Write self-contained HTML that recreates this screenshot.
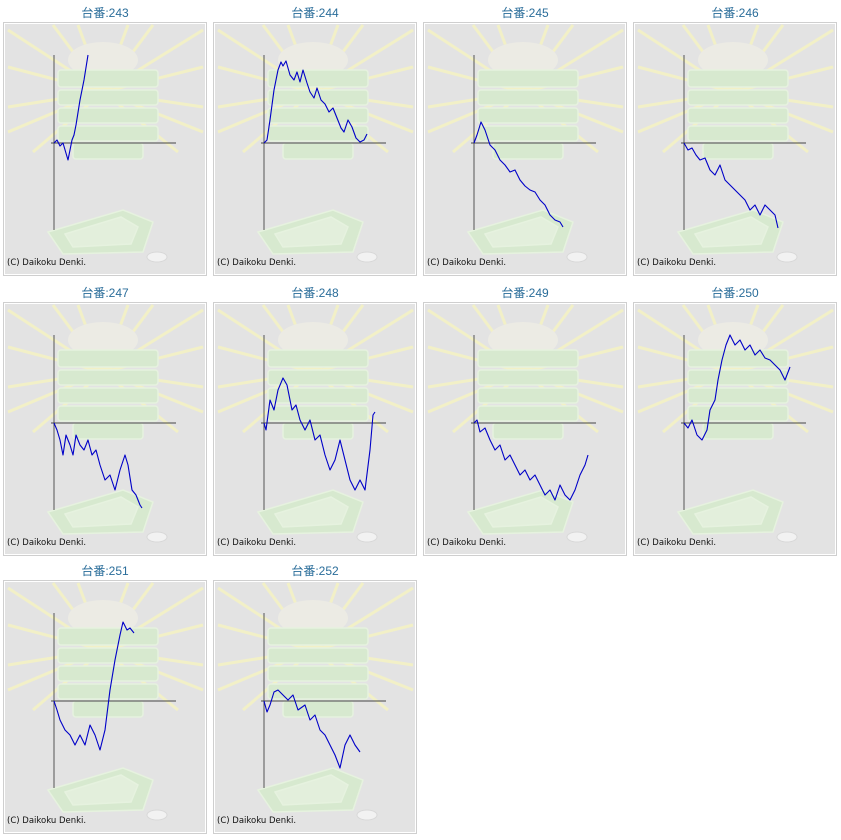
<!DOCTYPE html>
<html><head><meta charset="utf-8"><style>
html,body{margin:0;padding:0;background:#fff;}
svg{display:block;}
.t{font-family:"Liberation Sans","Noto Sans CJK JP",sans-serif;font-size:12px;fill:#2a6d9a;text-anchor:middle;}
.c{font-family:"DejaVu Sans","Liberation Sans",sans-serif;font-size:8.5px;fill:#111;}
.s{fill:none;stroke:#0000c8;stroke-width:1.1;stroke-linejoin:round;}
</style></head><body>
<svg width="841" height="840" viewBox="0 0 841 840" xmlns="http://www.w3.org/2000/svg">
<defs>
<g id="bg">
<rect x="0.5" y="0.5" width="203" height="253" fill="#fff" stroke="#cfcfcf"/>
<rect x="2" y="2" width="200" height="250" fill="#e3e3e3"/>
<g stroke="#f4f2c4" stroke-width="3" opacity="0.9">
<line x1="100" y1="70" x2="5" y2="8"/><line x1="100" y1="70" x2="5" y2="45"/>
<line x1="100" y1="70" x2="5" y2="85"/><line x1="100" y1="70" x2="5" y2="110"/>
<line x1="100" y1="70" x2="200" y2="8"/><line x1="100" y1="70" x2="200" y2="45"/>
<line x1="100" y1="70" x2="200" y2="85"/><line x1="100" y1="70" x2="200" y2="110"/>
<line x1="100" y1="70" x2="50" y2="3"/><line x1="100" y1="70" x2="150" y2="3"/>
<line x1="100" y1="70" x2="75" y2="3"/><line x1="100" y1="70" x2="125" y2="3"/>
<line x1="100" y1="70" x2="30" y2="130"/><line x1="100" y1="70" x2="175" y2="130"/>
</g>
<ellipse cx="100" cy="38" rx="35" ry="18" fill="#ecebe4"/>
<g fill="#d7e9cf" stroke="#e6f2df" stroke-width="1.5">
<rect x="55" y="48" width="100" height="17" rx="3"/>
<rect x="55" y="68" width="100" height="15" rx="3"/>
<rect x="55" y="86" width="100" height="15" rx="3"/>
<rect x="55" y="104" width="100" height="15" rx="3"/>
<rect x="70" y="121" width="70" height="16" rx="3"/>
<polygon points="45,210 120,188 150,200 140,230 60,232"/>
<polygon points="62,212 118,195 135,205 128,222 70,225" fill="#e3efdc"/>
</g>
<ellipse cx="154" cy="235" rx="10" ry="5" fill="#f2f2f2" stroke="#d8d8d8"/>
<g stroke="#444" stroke-width="0.9"><line x1="51" y1="33" x2="51" y2="208"/><line x1="48" y1="121" x2="173" y2="121"/></g>
</g>
</defs>
<g class="t">
<text x="105" y="17">台番:243</text><text x="315" y="17">台番:244</text><text x="525" y="17">台番:245</text><text x="735" y="17">台番:246</text>
<text x="105" y="297">台番:247</text><text x="315" y="297">台番:248</text><text x="525" y="297">台番:249</text><text x="735" y="297">台番:250</text>
<text x="105" y="575">台番:251</text><text x="315" y="575">台番:252</text>
</g>
<use href="#bg" x="3" y="22"/><use href="#bg" x="213" y="22"/><use href="#bg" x="423" y="22"/><use href="#bg" x="633" y="22"/>
<use href="#bg" x="3" y="302"/><use href="#bg" x="213" y="302"/><use href="#bg" x="423" y="302"/><use href="#bg" x="633" y="302"/>
<use href="#bg" x="3" y="580"/><use href="#bg" x="213" y="580"/>
<g class="c">
<text x="7" y="265">(C) Daikoku Denki.</text><text x="217" y="265">(C) Daikoku Denki.</text><text x="427" y="265">(C) Daikoku Denki.</text><text x="637" y="265">(C) Daikoku Denki.</text>
<text x="7" y="545">(C) Daikoku Denki.</text><text x="217" y="545">(C) Daikoku Denki.</text><text x="427" y="545">(C) Daikoku Denki.</text><text x="637" y="545">(C) Daikoku Denki.</text>
<text x="7" y="823">(C) Daikoku Denki.</text><text x="217" y="823">(C) Daikoku Denki.</text>
</g>
<polyline class="s" points="54,143 57,140 60,146 63,143 68,160 72,140 74,135 76,125 80,100 84,80 88,55"/>
<polyline class="s" points="264,143 267,140 270,120 274,90 278,70 281,62 283,66 286,61 290,75 294,80 297,72 300,82 303,70 307,83 310,92 314,98 317,88 321,100 325,104 329,112 333,108 337,118 341,128 344,132 348,120 352,127 356,138 360,142 364,140 367,134"/>
<polyline class="s" points="474,143 477,135 481,122 485,130 490,145 495,150 500,160 505,165 510,172 515,170 520,180 525,186 530,190 535,192 540,200 545,205 550,215 555,220 560,222 563,227"/>
<polyline class="s" points="684,143 688,150 692,148 696,155 700,160 705,158 710,170 715,175 720,165 725,180 730,185 735,190 740,195 745,200 750,210 755,205 760,215 765,205 770,210 775,215 778,228"/>
<polyline class="s" points="54,423 57,430 60,440 63,455 66,435 70,445 73,455 76,435 80,445 84,450 88,440 92,455 96,450 100,465 105,480 110,475 115,490 120,470 125,455 128,465 132,490 136,495 140,505 142,508"/>
<polyline class="s" points="264,423 266,430 270,400 274,410 278,390 283,378 287,385 292,410 296,405 300,420 305,430 310,420 315,440 320,435 325,455 330,470 335,460 340,440 345,460 350,480 355,490 360,480 365,490 370,450 373,415 375,412"/>
<polyline class="s" points="474,423 477,420 480,432 485,428 490,440 495,450 500,445 505,460 510,455 515,465 520,475 525,470 530,480 535,475 540,485 545,495 550,490 555,500 560,485 565,495 570,500 575,490 580,475 585,465 588,455"/>
<polyline class="s" points="684,423 688,428 692,420 697,435 702,440 707,430 710,410 715,400 718,380 722,360 726,345 730,335 735,345 740,340 745,350 750,345 755,355 760,350 765,358 770,360 775,365 780,370 785,380 790,367"/>
<polyline class="s" points="54,701 57,710 60,720 65,730 70,735 75,745 80,735 85,745 90,725 95,735 100,750 105,730 110,690 115,660 120,635 123,622 127,630 130,628 134,633"/>
<polyline class="s" points="264,701 267,712 270,705 274,692 278,690 283,695 288,700 293,695 298,710 305,705 310,720 315,715 320,730 325,735 330,745 335,755 340,768 345,745 350,735 355,745 360,752"/>
</svg>
</body></html>
